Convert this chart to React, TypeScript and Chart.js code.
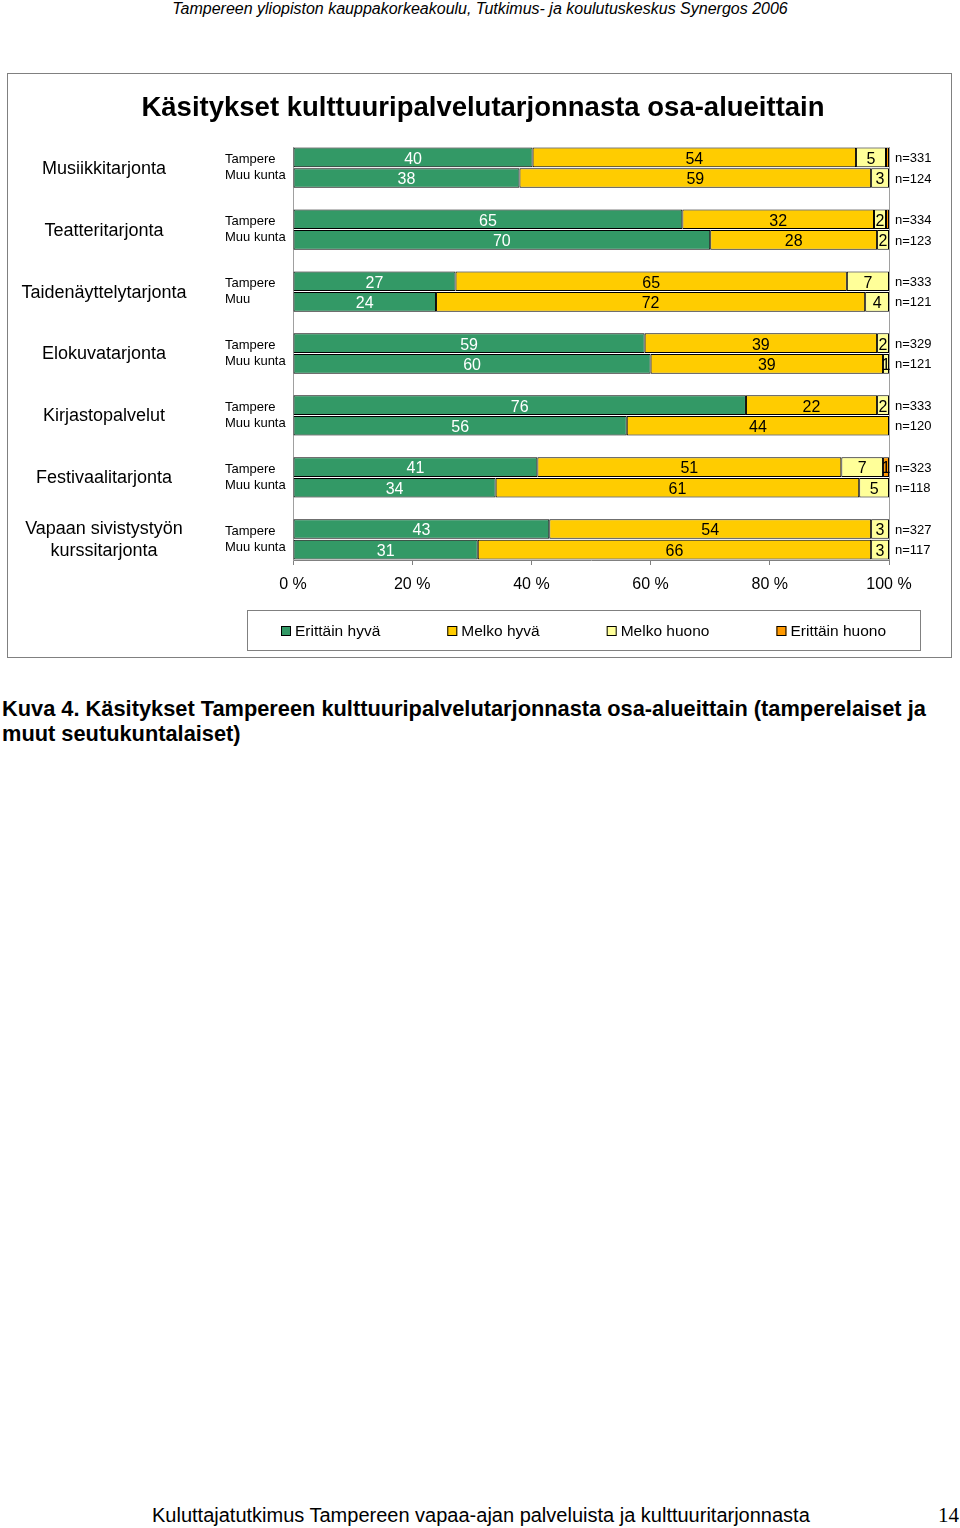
import React, { useEffect, useRef } from 'react';
import { Chart, registerables } from 'chart.js';

Chart.register(...registerables);

// ---------- data ----------
const categories: (string | string[])[] = [
  'Musiikkitarjonta',
  'Teatteritarjonta',
  'Taidenäyttelytarjonta',
  'Elokuvatarjonta',
  'Kirjastopalvelut',
  'Festivaalitarjonta',
  ['Vapaan sivistystyön', 'kurssitarjonta'],
];
const rowLabelsTampere = ['Tampere', 'Tampere', 'Tampere', 'Tampere', 'Tampere', 'Tampere', 'Tampere'];
const rowLabelsMuu = ['Muu kunta', 'Muu kunta', 'Muu', 'Muu kunta', 'Muu kunta', 'Muu kunta', 'Muu kunta'];

const seriesNames = ['Erittäin hyvä', 'Melko hyvä', 'Melko huono', 'Erittäin huono'];
const seriesColors = ['#339966', '#FFCC00', '#FFFF99', '#FF9900'];

const tampereErittainHyva = [40, 65, 27, 59, 76, 41, 43];
const tampereMelkoHyva = [54, 32, 65, 39, 22, 51, 54];
const tampereMelkoHuono = [5, 2, 7, 2, 2, 7, 3];
const tampereErittainHuono = [0.5, 0.5, 0, 0, 0, 1, 0];

const muuErittainHyva = [38, 70, 24, 60, 56, 34, 31];
const muuMelkoHyva = [59, 28, 72, 39, 44, 61, 66];
const muuMelkoHuono = [3, 2, 4, 1, 0, 5, 3];
const muuErittainHuono = [0, 0, 0, 0, 0, 0, 0];

const nTampere = [331, 334, 333, 329, 333, 323, 327];
const nMuu = [124, 123, 121, 121, 120, 118, 117];

const xTickValues = [0, 20, 40, 60, 80, 100];
const chartTitle = 'Käsitykset kulttuuripalvelutarjonnasta osa-alueittain';

// ---------- build slots ----------
type Slot = { group: number; kind: 'T' | 'M' | 'gap' };
const slots: Slot[] = [];
categories.forEach((_, g) => {
  slots.push({ group: g, kind: 'T' });
  slots.push({ group: g, kind: 'M' });
  if (g < categories.length - 1) slots.push({ group: g, kind: 'gap' });
});

const tampereSeries = [tampereErittainHyva, tampereMelkoHyva, tampereMelkoHuono, tampereErittainHuono];
const muuSeries = [muuErittainHyva, muuMelkoHyva, muuMelkoHuono, muuErittainHuono];

const rawFor = (s: number, slot: Slot): number | null => {
  if (slot.kind === 'gap') return null;
  return (slot.kind === 'T' ? tampereSeries : muuSeries)[s][slot.group];
};
const rowSum = (slot: Slot): number => {
  const src = slot.kind === 'T' ? tampereSeries : muuSeries;
  return src.reduce((a, arr) => a + arr[slot.group], 0);
};

const FONT = '"Liberation Sans", Arial, Helvetica, sans-serif';

const overlayPlugin = {
  id: 'overlay',
  afterDatasetsDraw(chart: any) {
    const ctx = chart.ctx as CanvasRenderingContext2D;
    ctx.save();
    ctx.font = `16px ${FONT}`;
    ctx.textAlign = 'center';
    ctx.textBaseline = 'middle';
    chart.data.datasets.forEach((ds: any, di: number) => {
      const meta = chart.getDatasetMeta(di);
      meta.data.forEach((el: any, i: number) => {
        const raw = ds.rawValues[i];
        if (raw == null || raw < 1) return;
        const p = el.getProps(['x', 'y', 'base'], true);
        ctx.fillStyle = di === 0 ? '#ffffff' : '#000000';
        ctx.fillText(String(Math.round(raw)), (p.x + p.base) / 2, p.y + 2);
      });
    });
    ctx.restore();
  },
  afterDraw(chart: any) {
    const ctx = chart.ctx as CanvasRenderingContext2D;
    const yScale = chart.scales.y;
    const xScale = chart.scales.x;
    ctx.save();
    // title
    ctx.fillStyle = '#000';
    ctx.font = `bold 27.5px ${FONT}`;
    ctx.textAlign = 'center';
    ctx.textBaseline = 'middle';
    ctx.fillText(chartTitle, 475, 34);

    categories.forEach((cat, g) => {
      const ti = slots.findIndex((s) => s.group === g && s.kind === 'T');
      const mi = slots.findIndex((s) => s.group === g && s.kind === 'M');
      const yT = yScale.getPixelForValue(ti);
      const yM = yScale.getPixelForValue(mi);
      const yc = (yT + yM) / 2;
      // category name
      ctx.font = `18px ${FONT}`;
      ctx.textAlign = 'center';
      ctx.fillStyle = '#000';
      const lines = Array.isArray(cat) ? cat : [cat];
      lines.forEach((ln, k) => {
        ctx.fillText(ln, 96, yc + (k - (lines.length - 1) / 2) * 22 + 1);
      });
      // row labels
      ctx.font = `13px ${FONT}`;
      ctx.textAlign = 'left';
      ctx.fillText(rowLabelsTampere[g], 217, yc - 8);
      ctx.fillText(rowLabelsMuu[g], 217, yc + 8);
      // n labels
      const nx = xScale.right + 6;
      ctx.fillText('n=' + nTampere[g], nx, yT + 1);
      ctx.fillText('n=' + nMuu[g], nx, yM + 1);
    });

    // legend
    const lx0 = 239, ly0 = 536, lw = 673, lh = 40;
    ctx.strokeStyle = '#808080';
    ctx.lineWidth = 1;
    ctx.strokeRect(lx0 + 0.5, ly0 + 0.5, lw, lh);
    ctx.font = `15.5px ${FONT}`;
    ctx.textAlign = 'left';
    let x = 273;
    const ly = 557;
    seriesNames.forEach((name, i) => {
      ctx.fillStyle = seriesColors[i];
      ctx.fillRect(x, ly - 5, 10, 10);
      ctx.strokeStyle = '#000';
      ctx.strokeRect(x + 0.5, ly - 5 + 0.5, 9, 9);
      ctx.fillStyle = '#000';
      ctx.fillText(name, x + 14, ly + 1);
      x += 14 + ctx.measureText(name).width + 67;
    });
    ctx.restore();
  },
};

function ChartBox() {
  const ref = useRef<HTMLCanvasElement | null>(null);
  useEffect(() => {
    if (!ref.current) return;
    const datasets = seriesNames.map((name, s) => {
      const raws = slots.map((slot) => rawFor(s, slot));
      return {
        label: name,
        data: slots.map((slot, i) => (raws[i] == null ? null : ((raws[i] as number) / rowSum(slot)) * 100)),
        rawValues: raws,
        backgroundColor: seriesColors[s],
        borderColor: '#000000',
        borderWidth: 1,
        borderSkipped: false,
        barPercentage: 0.95,
        categoryPercentage: 1,
      };
    });
    const chart = new Chart(ref.current, {
      type: 'bar',
      data: {
        labels: slots.map((s, i) => `${s.group}-${s.kind}-${i}`),
        datasets: datasets as any,
      },
      plugins: [overlayPlugin],
      options: {
        indexAxis: 'y',
        responsive: false,
        animation: false,
        devicePixelRatio: 1,
        layout: { padding: { left: 285, right: 62, top: 73, bottom: 57 } },
        plugins: {
          legend: { display: false },
          title: { display: false },
          tooltip: { enabled: false },
        },
        scales: {
          x: {
            type: 'linear',
            stacked: true,
            min: 0,
            max: 100,
            afterBuildTicks: (scale: any) => {
              scale.ticks = xTickValues.map((v) => ({ value: v }));
            },
            afterFit: (scale: any) => {
              scale.height = 40;
            },
            ticks: {
              color: '#000',
              font: { size: 16, family: FONT },
              padding: 10,
              callback: (v: any) => `${v} %`,
            },
            grid: {
              drawOnChartArea: true,
              drawTicks: true,
              tickLength: 5,
              color: (c: any) => (c.tick && c.tick.value === 100 ? '#a0a0a0' : 'rgba(0,0,0,0)'),
              tickColor: '#808080',
            },
            border: { display: true, color: '#808080', width: 1 },
          },
          y: {
            type: 'category',
            stacked: true,
            afterFit: (scale: any) => {
              scale.width = 0;
            },
            ticks: { display: false },
            grid: { display: true, drawOnChartArea: false, drawTicks: false },
            border: { display: true, color: '#a0a0a0', width: 1 },
          },
        },
      } as any,
    });
    return () => chart.destroy();
  }, []);
  return <canvas ref={ref} width={943} height={583} style={{ display: 'block', width: 943, height: 583 }} />;
}

export default function App() {
  return (
    <div style={{ position: 'absolute', left: 0, top: 0, width: 960, height: 1528, background: '#fff', overflow: 'hidden', fontFamily: FONT }}>
      <div style={{ position: 'absolute', left: 0, top: 0, width: 960, textAlign: 'center', fontStyle: 'italic', fontSize: 16, lineHeight: '17px' }}>
        Tampereen yliopiston kauppakorkeakoulu, Tutkimus- ja koulutuskeskus Synergos 2006
      </div>
      <div style={{ position: 'absolute', left: 7, top: 73, width: 943, height: 583, border: '1px solid #808080' }}>
        <ChartBox />
      </div>
      <div style={{ position: 'absolute', left: 2, top: 696, width: 958, fontWeight: 'bold', fontSize: 21.8, lineHeight: '25px', whiteSpace: 'nowrap' }}>
        Kuva 4. Käsitykset Tampereen kulttuuripalvelutarjonnasta osa-alueittain (tamperelaiset ja
        <br />
        muut seutukuntalaiset)
      </div>
      <div style={{ position: 'absolute', left: 152, top: 1502, fontSize: 20, lineHeight: '26px', whiteSpace: 'nowrap' }}>
        Kuluttajatutkimus Tampereen vapaa-ajan palveluista ja kulttuuritarjonnasta
      </div>
      <div style={{ position: 'absolute', left: 938, top: 1502, fontFamily: '"Liberation Serif", "Times New Roman", serif', fontSize: 21, lineHeight: '26px' }}>
        14
      </div>
    </div>
  );
}
